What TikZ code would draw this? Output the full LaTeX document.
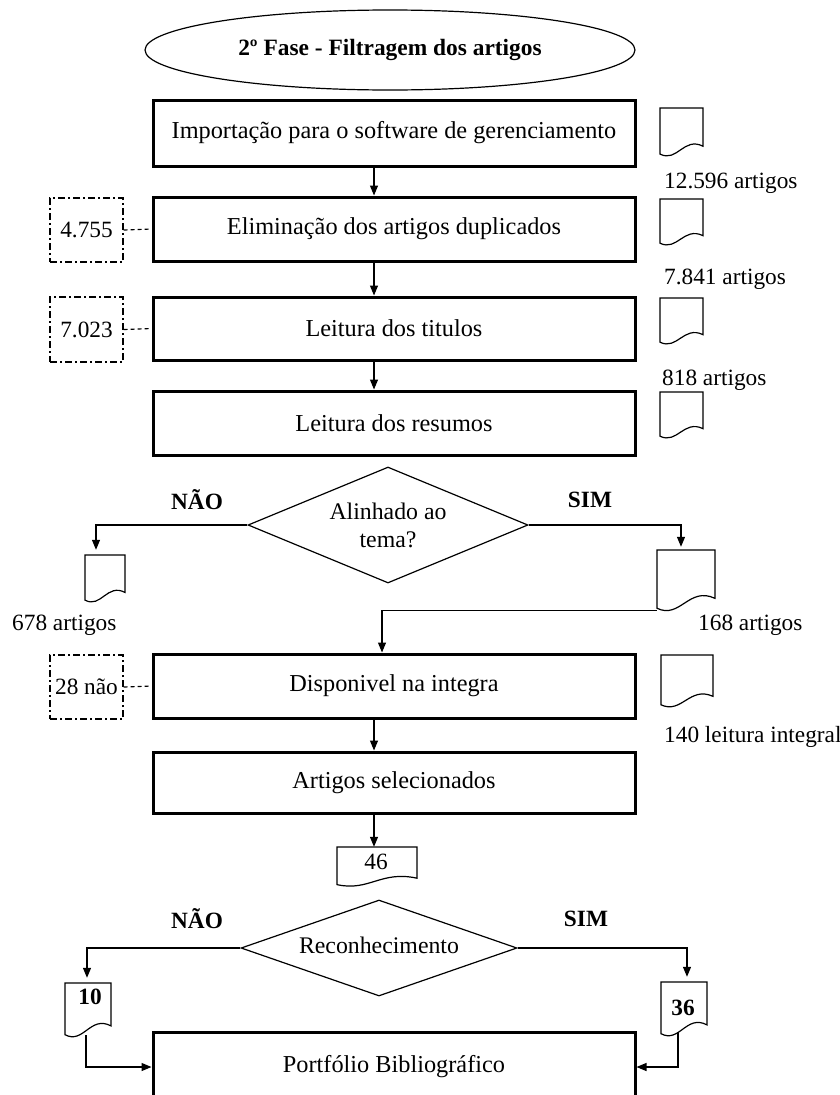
\documentclass[tikz,border=0pt]{standalone}
\usepackage{fontspec}
\setmainfont{Liberation Serif}
\usetikzlibrary{shapes.geometric,arrows.meta,calc}
\newcommand{\docnode}[5]{%
 \pgfmathsetmacro\docW{#4-#2}\pgfmathsetmacro\docH{#5-#3}%
 \node[docbase, minimum width=\docW pt, minimum height=\docH pt] (#1) at ({(#2+#4)/2},{(#3+#5)/2}) {};
 \draw[thinline] (#2,{#5-0.06*\docH}) -- (#2,#3) -- (#4,#3) -- (#4,{#5-0.22*\docH})
   .. controls ({#4-0.45*\docW},{#5-0.42*\docH}) and ({#2+0.4*\docW},{#5+0.12*\docH}) .. (#2,{#5-0.06*\docH}) -- cycle;}
\begin{document}
\begin{tikzpicture}[x=1pt,y=-1pt,
  every node/.style={font=\fontsize{23.3}{27}\selectfont, text=black},
  thinline/.style={draw=black, line width=1.2pt},
  mainbox/.style={draw=black, line width=3pt, minimum width=482pt, inner sep=0pt, font=\fontsize{24.3}{28}\selectfont},
  docbase/.style={inner sep=0pt, draw=none},
  dashbox/.style={draw=black, line width=1.2pt, dash pattern=on 7pt off 3pt on 2pt off 3pt, minimum width=73pt, inner sep=0pt},
  dashlink/.style={draw=black, line width=1.2pt, dash pattern=on 4pt off 3pt},
  decision/.style={draw=black, line width=1.2pt, diamond, aspect=2.4, inner sep=0pt, align=center, font=\fontsize{23.8}{28}\selectfont},
  arr/.style={thinline, -{Triangle[length=10pt,width=8pt]}},
  lbl/.style={anchor=west, inner sep=0pt},
  blbl/.style={inner sep=0pt, font=\fontsize{23.3}{27}\selectfont\bfseries}]
\useasboundingbox (0,0) rectangle (840,1095);

% title
\node[draw=black, line width=1.2pt, ellipse, minimum width=490pt, minimum height=80pt, inner sep=0pt, font=\fontsize{23.4}{27}\selectfont\bfseries] (title) at (390,50) {2º Fase - Filtragem dos artigos};

% main boxes
\node[mainbox, minimum height=66pt] (b1) at (394,133) {Importação para o software de gerenciamento};
\node[mainbox, minimum height=64pt] (b2) at (394,229) {Eliminação dos artigos duplicados};
\node[mainbox, minimum height=63pt] (b3) at (394,328.5) {Leitura dos titulos};
\node[mainbox, minimum height=64pt] (b4) at (394,423) {Leitura dos resumos};
\node[mainbox, minimum height=64pt] (b5) at (394,686) {Disponivel na integra};
\node[mainbox, minimum height=61pt] (b6) at (394,782.5) {Artigos selecionados};
\node[mainbox, minimum height=70pt] (b7) at (394,1067) {Portfólio Bibliográfico};

% decisions
\node[decision, minimum width=280pt, minimum height=116pt] (dia1) at (388,525) {Alinhado ao\\tema?};
\node[decision, minimum width=276pt, minimum height=96pt] (dia2) at (379,948) {\raisebox{6pt}{Reconhecimento}};

% dashed side boxes
\node[dashbox, minimum height=64pt] (x1) at (86.5,230) {4.755};
\node[dashbox, minimum height=65pt] (x2) at (86.5,329.5) {7.023};
\node[dashbox, minimum height=64pt] (x3) at (86.5,687) {28 não};
\draw[dashlink] (x1.east) -- (b2.west);
\draw[dashlink] (x2.east) -- (b3.west);
\draw[dashlink] (x3.east) -- (b5.west);

% documents
\docnode{d1}{660}{108}{703}{157}
\docnode{d2}{660}{199}{703}{246}
\docnode{d3}{660}{298}{703}{345}
\docnode{d4}{660}{392}{703}{439}
\docnode{d678}{85}{555}{125}{603}
\docnode{d168}{657}{550}{715}{612}
\docnode{d140}{661}{655}{713}{708}
\docnode{d46}{337}{847}{417}{887}
\docnode{d10}{65}{983}{111}{1038}
\docnode{d36}{661}{982}{707}{1037}

% document texts
\node[inner sep=0pt] (t46) at (376,862) {46};
\node[blbl] (t10) at (90,997) {10};
\node[blbl] (t36) at (683,1008) {36};

% count labels
\node[lbl] (l1) at (664,183) {12.596 artigos};
\node[lbl] (l2) at (664,279) {7.841 artigos};
\node[lbl] (l3) at (662,380) {818 artigos};
\node[lbl] (l4) at (12,625) {678 artigos};
\node[lbl] (l5) at (698,625) {168 artigos};
\node[lbl] (l6) at (664,737) {140 leitura integral};

% yes / no labels
\node[blbl] (n1) at (197,500) {NÃO};
\node[blbl] (s1) at (590,500) {SIM};
\node[blbl] (n2) at (197,919) {NÃO};
\node[blbl] (s2) at (586,919) {SIM};

% flow
\coordinate (ax) at (374,0);
\coordinate (cx) at (382,0);
\draw[arr] (b1.south -| ax) -- (b2.north -| ax);
\draw[arr] (b2.south -| ax) -- (b3.north -| ax);
\draw[arr] (b3.south -| ax) -- (b4.north -| ax);
\draw[arr] (b5.south -| ax) -- (b6.north -| ax);
\draw[arr] (b6.south -| ax) -- (d46.north -| ax);
\draw[arr, shorten >=5pt] (dia1.west) -| ([xshift=-9pt]d678.north);
\draw[arr, shorten >=3pt] (dia1.east) -| ([xshift=-5pt]d168.north);
\draw[arr] ([yshift=2pt]d168.south west) -| (b5.north -| cx);
\draw[arr, shorten >=5pt] (dia2.west) -| ([xshift=-1pt]d10.north);
\draw[arr, shorten >=5pt] (dia2.east) -| ([xshift=3pt]d36.north);
\draw[arr] ([xshift=-2pt,yshift=3pt]d10.south) |- (b7.west);
\draw[arr] ([xshift=-6pt,yshift=5pt]d36.south) |- (b7.east);
\end{tikzpicture}
\end{document}
